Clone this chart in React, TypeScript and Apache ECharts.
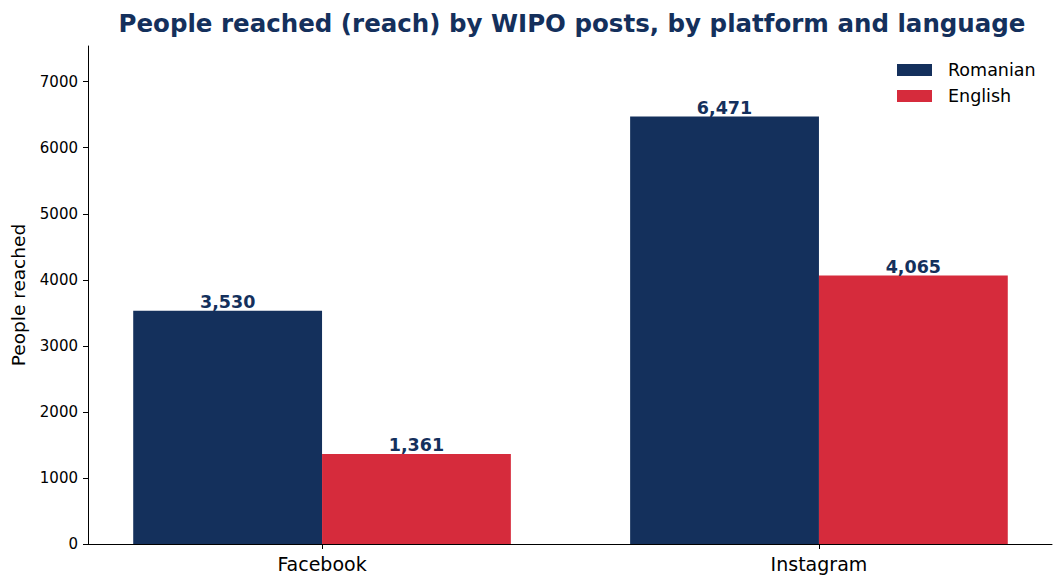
import * as echarts from 'echarts'
import { useEffect, useRef } from 'react'

const platforms = ['Facebook', 'Instagram']
const romanian = [3530, 6471]
const english = [1361, 4065]
const yTicks = [0, 1000, 2000, 3000, 4000, 5000, 6000, 7000]

const NAVY = '#14305C'
const RED = '#D62B3C'
const FONT = 'DejaVu Sans'

export default function App() {
  const chartRef = useRef<HTMLDivElement>(null)

  useEffect(() => {
    if (!chartRef.current) return
    const chart = echarts.init(chartRef.current, undefined, { renderer: 'svg' })

    const positions = platforms.map((_, i) => i)
    const barLabel = {
      show: true,
      position: 'top',
      distance: 0,
      formatter: (p: any) => Number(p.value[1]).toLocaleString('en-US'),
      fontFamily: FONT,
      fontWeight: 'bold',
      fontSize: 17.5,
      color: NAVY
    }

    const option = {
      animation: false,
      backgroundColor: '#ffffff',
      title: {
        text: 'People reached (reach) by WIPO posts, by platform and language',
        left: 567,
        top: 6,
        textAlign: 'center',
        textStyle: { fontFamily: FONT, fontSize: 24.5, fontWeight: 'bold', color: NAVY }
      },
      legend: {
        orient: 'vertical',
        left: 897,
        top: 61,
        padding: 0,
        itemWidth: 35,
        itemHeight: 12,
        itemGap: 8,
        icon: 'rect',
        textStyle: { fontFamily: FONT, fontSize: 17.5, color: '#000', padding: [0, 0, 0, 11] },
        data: ['Romanian', 'English']
      },
      grid: { left: 88, right: 12, top: 46, bottom: 40, outerBoundsMode: 'none', containLabel: false },
      xAxis: {
        type: 'value',
        min: -0.471,
        max: 1.469,
        splitLine: { show: false },
        axisLine: { show: true, onZero: false, lineStyle: { color: '#000', width: 1 } },
        axisTick: { show: true, customValues: positions, length: 5, lineStyle: { color: '#000' } },
        axisLabel: {
          customValues: positions,
          formatter: (v: number) => platforms[Math.round(v)] ?? '',
          fontFamily: FONT,
          fontSize: 19,
          color: '#000',
          margin: 10
        }
      },
      yAxis: {
        type: 'value',
        min: 0,
        max: 7540,
        name: 'People reached',
        nameLocation: 'middle',
        nameRotate: 90,
        nameGap: 60,
        nameTextStyle: { fontFamily: FONT, fontSize: 18.5, color: '#000' },
        splitLine: { show: false },
        axisLine: { show: true, onZero: false, lineStyle: { color: '#000', width: 1 } },
        axisTick: { show: true, customValues: yTicks, length: 5, lineStyle: { color: '#000' } },
        axisLabel: {
          customValues: yTicks,
          formatter: (v: number) => String(v),
          fontFamily: FONT,
          fontSize: 15,
          color: '#000',
          margin: 10
        }
      },
      series: [
        {
          name: 'Romanian',
          type: 'bar',
          data: romanian.map((v, i) => [i, v]),
          barWidth: '38%',
          barGap: '0%',
          itemStyle: { color: NAVY },
          label: barLabel
        },
        {
          name: 'English',
          type: 'bar',
          data: english.map((v, i) => [i, v]),
          barWidth: '38%',
          barGap: '0%',
          itemStyle: { color: RED },
          label: barLabel
        }
      ]
    }

    chart.setOption(option as any)
    return () => chart.dispose()
  }, [])

  return (
    <div
      ref={chartRef}
      style={{ position: 'fixed', left: 0, top: 0, width: '1064px', height: '584px' }}
    />
  )
}
